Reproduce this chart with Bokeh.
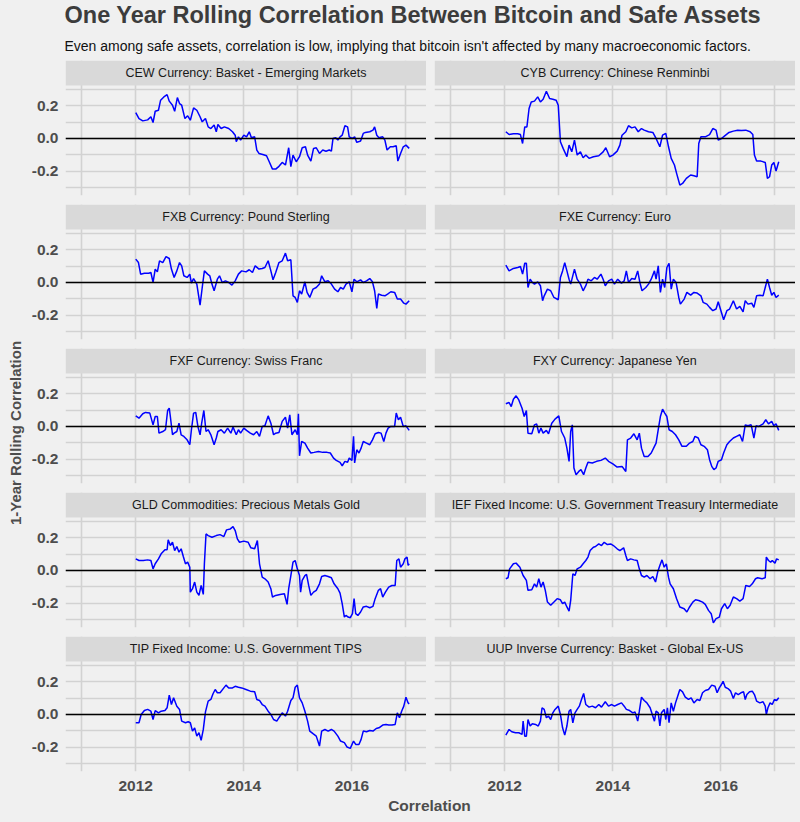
from bokeh.plotting import figure
from bokeh.layouts import column, row
from bokeh.models import Range1d, FixedTicker, PrintfTickFormatter, Span, BoxAnnotation, Label
from bokeh.embed import file_html
from bokeh.resources import INLINE

# ---------------- texts ----------------
TITLE = "One Year Rolling Correlation Between Bitcoin and Safe Assets"
SUBTITLE = ("Even among safe assets, correlation is low, implying that bitcoin "
            "isn't affected by many macroeconomic factors.")
X_TITLE = "Correlation"
Y_TITLE = "1-Year Rolling Correlation"

panel_names = [
    "CEW Currency: Basket - Emerging Markets",
    "CYB Currency: Chinese Renminbi",
    "FXB Currency: Pound Sterling",
    "FXE Currency: Euro",
    "FXF Currency: Swiss Franc",
    "FXY Currency: Japanese Yen",
    "GLD Commodities: Precious Metals Gold",
    "IEF Fixed Income: U.S. Government Treasury Intermediate",
    "TIP Fixed Income: U.S. Government TIPS",
    "UUP Inverse Currency: Basket - Global Ex-US",
]

# ---------------- ticks ----------------
BASE_YEAR = 2012
x_major = [2012, 2014, 2016]
x_minor = [2011, 2013, 2015, 2017]
y_major = [-0.2, 0.0, 0.2]
y_minor = [-0.3, -0.1, 0.1, 0.3]

# ---------------- data (years since 2012, correlation) ----------------
cew_t = [0.00,0.06,0.13,0.22,0.28,0.32,0.36,0.42,0.46,0.52,0.58,0.62,0.68,0.72,0.77,0.81,0.85,0.91,0.96,1.01,
         1.07,1.13,1.19,1.23,1.29,1.34,1.39,1.45,1.49,1.52,1.58,1.64,1.72,1.79,1.84,1.86,1.90,1.94,2.00,2.05,
         2.10,2.14,2.20,2.24,2.28,2.35,2.42,2.47,2.53,2.59,2.65,2.71,2.77,2.83,2.87,2.91,2.97,3.03,3.08,3.14,
         3.18,3.24,3.29,3.34,3.40,3.46,3.52,3.58,3.62,3.65,3.70,3.74,3.78,3.82,3.87,3.92,3.95,4.01,4.05,4.09,
         4.16,4.21,4.25,4.33,4.39,4.42,4.46,4.50,4.57,4.61,4.65,4.71,4.76,4.82,4.85,4.90,4.95,5.00,5.06]
cew_v = [0.159,0.122,0.108,0.114,0.133,0.098,0.167,0.173,0.235,0.255,0.269,0.229,0.204,0.167,0.251,0.214,0.204,0.122,0.139,0.112,
         0.188,0.173,0.133,0.102,0.122,0.071,0.061,0.082,0.041,0.086,0.061,0.071,0.061,0.041,0.020,-0.020,0.010,-0.010,0.020,0.010,
         0.041,0.004,0.010,-0.071,-0.092,-0.098,-0.106,-0.143,-0.188,-0.188,-0.171,-0.147,-0.163,-0.057,-0.173,-0.102,-0.143,-0.112,-0.057,-0.051,
         -0.102,-0.139,-0.061,-0.057,-0.092,-0.071,-0.078,-0.071,-0.078,0.000,0.004,-0.010,0.010,0.020,0.078,0.071,0.010,0.000,0.010,-0.024,
         -0.016,0.031,0.037,0.041,0.051,0.071,0.020,0.004,0.010,-0.010,-0.071,-0.051,-0.051,-0.045,-0.139,-0.092,-0.051,-0.041,-0.061]

cyb_t = [0.02,0.08,0.16,0.24,0.29,0.33,0.37,0.41,0.45,0.49,0.55,0.61,0.66,0.71,0.77,0.83,0.89,0.95,0.99,1.03,
         1.08,1.15,1.19,1.24,1.29,1.34,1.40,1.45,1.50,1.56,1.64,1.74,1.82,1.87,1.94,2.00,2.08,2.13,2.17,2.24,
         2.29,2.35,2.41,2.47,2.53,2.58,2.66,2.74,2.80,2.87,2.92,2.98,3.03,3.08,3.14,3.18,3.24,3.29,3.36,3.44,
         3.50,3.56,3.59,3.63,3.71,3.79,3.85,3.91,3.95,4.01,4.07,4.15,4.23,4.31,4.38,4.46,4.54,4.59,4.62,4.66,
         4.74,4.82,4.86,4.90,4.94,4.98,5.02,5.07]
cyb_v = [0.041,0.024,0.029,0.029,0.024,-0.031,0.071,0.071,0.184,0.224,0.229,0.255,0.224,0.241,0.290,0.245,0.241,0.235,0.204,-0.020,
         -0.061,-0.112,-0.041,-0.082,-0.010,-0.102,-0.082,-0.118,-0.102,-0.122,-0.112,-0.106,-0.082,-0.057,-0.112,-0.102,-0.078,-0.041,0.020,0.041,
         0.078,0.065,0.071,0.041,0.061,0.051,0.041,0.037,0.000,-0.051,0.020,0.031,-0.051,-0.122,-0.163,-0.214,-0.286,-0.276,-0.245,-0.224,
         -0.229,-0.235,-0.031,0.010,0.010,0.024,0.061,0.051,-0.010,0.000,0.016,0.037,0.045,0.051,0.049,0.051,0.041,0.024,-0.102,-0.139,
         -0.139,-0.147,-0.245,-0.235,-0.163,-0.147,-0.200,-0.143]

fxb_t = [0.00,0.05,0.09,0.16,0.24,0.28,0.32,0.36,0.40,0.44,0.50,0.56,0.62,0.66,0.71,0.76,0.81,0.85,0.89,0.95,
         1.00,1.03,1.07,1.13,1.19,1.23,1.27,1.33,1.37,1.41,1.45,1.51,1.55,1.60,1.66,1.72,1.78,1.84,1.90,1.96,
         2.04,2.10,2.16,2.21,2.28,2.34,2.39,2.45,2.50,2.54,2.59,2.65,2.71,2.77,2.81,2.87,2.91,2.95,2.99,3.03,
         3.07,3.13,3.17,3.22,3.28,3.34,3.40,3.44,3.50,3.56,3.62,3.68,3.74,3.79,3.84,3.89,3.95,4.00,4.04,4.09,
         4.16,4.21,4.27,4.33,4.38,4.42,4.46,4.49,4.55,4.61,4.66,4.72,4.79,4.84,4.90,4.96,5.00,5.06]
fxb_v = [0.143,0.122,0.051,0.057,0.057,0.061,0.000,0.082,0.065,0.133,0.122,0.159,0.147,0.082,0.031,0.071,0.122,0.102,0.041,0.031,
         0.051,-0.004,0.024,-0.010,-0.139,-0.031,0.071,0.051,0.041,-0.010,-0.051,0.020,0.041,0.000,0.010,0.000,-0.016,0.010,0.051,0.071,
         0.065,0.078,0.061,0.102,0.082,0.086,0.092,0.133,0.071,0.016,0.061,0.122,0.133,0.180,0.133,0.139,-0.082,-0.092,-0.122,-0.051,
         -0.071,0.004,-0.061,-0.092,-0.041,-0.031,-0.010,0.041,0.004,0.010,-0.010,-0.041,-0.057,-0.031,-0.041,-0.010,0.004,-0.057,0.020,0.004,
         0.016,0.000,0.010,0.024,0.004,-0.051,-0.159,-0.071,-0.078,-0.082,-0.071,-0.057,-0.061,-0.102,-0.102,-0.127,-0.133,-0.112]

fxe_t = [0.02,0.08,0.16,0.24,0.29,0.33,0.37,0.40,0.43,0.47,0.51,0.55,0.61,0.66,0.70,0.73,0.79,0.85,0.91,0.99,
         1.03,1.07,1.11,1.15,1.19,1.22,1.29,1.34,1.40,1.45,1.50,1.54,1.60,1.66,1.71,1.78,1.82,1.86,1.92,1.98,
         2.03,2.09,2.16,2.21,2.25,2.29,2.35,2.41,2.46,2.50,2.54,2.61,2.66,2.71,2.77,2.80,2.84,2.88,2.92,2.96,
         3.00,3.04,3.08,3.12,3.17,3.22,3.25,3.32,3.37,3.44,3.50,3.56,3.63,3.67,3.74,3.79,3.85,3.91,3.95,4.01,
         4.05,4.11,4.16,4.23,4.29,4.35,4.41,4.45,4.50,4.57,4.61,4.66,4.72,4.78,4.82,4.86,4.90,4.94,4.98,5.02,
         5.07]
fxe_v = [0.106,0.071,0.086,0.092,0.098,0.051,0.118,0.118,-0.031,0.020,0.000,-0.010,0.004,-0.020,-0.112,-0.082,-0.041,-0.051,-0.092,-0.106,
         0.031,0.071,0.122,0.071,0.020,-0.010,0.082,0.020,-0.010,-0.051,-0.020,0.020,0.010,0.031,0.020,0.051,0.020,-0.020,0.010,0.020,
         -0.010,0.020,-0.004,0.010,0.071,0.000,0.024,0.020,0.071,0.000,-0.051,-0.031,-0.010,0.020,0.071,0.020,0.102,-0.061,0.020,-0.031,
         0.092,0.118,-0.041,0.020,0.000,-0.092,-0.133,-0.102,-0.061,-0.078,-0.061,-0.065,-0.082,-0.122,-0.133,-0.153,-0.173,-0.163,-0.118,-0.184,
         -0.229,-0.173,-0.163,-0.112,-0.163,-0.147,-0.180,-0.112,-0.133,-0.127,-0.153,-0.082,-0.078,-0.082,-0.031,0.020,-0.031,-0.078,-0.061,-0.092,
         -0.078]

fxf_t = [0.00,0.06,0.13,0.18,0.26,0.32,0.36,0.40,0.43,0.50,0.55,0.59,0.62,0.64,0.68,0.71,0.76,0.80,0.84,0.89,
         0.95,1.00,1.03,1.07,1.11,1.15,1.19,1.22,1.26,1.30,1.34,1.39,1.45,1.49,1.52,1.58,1.64,1.70,1.76,1.80,
         1.86,1.90,1.94,2.00,2.05,2.12,2.18,2.24,2.29,2.34,2.39,2.45,2.50,2.55,2.59,2.65,2.71,2.77,2.81,2.85,
         2.89,2.95,2.99,3.01,3.03,3.07,3.13,3.18,3.24,3.30,3.38,3.46,3.54,3.60,3.66,3.71,3.78,3.82,3.87,3.92,
         3.95,4.00,4.03,4.05,4.09,4.13,4.17,4.21,4.27,4.33,4.38,4.43,4.49,4.54,4.59,4.63,4.67,4.72,4.79,4.82,
         4.86,4.90,4.95,5.00,5.06]
fxf_v = [0.065,0.051,0.078,0.086,0.082,0.010,0.061,0.061,-0.041,-0.031,-0.020,0.098,0.112,0.061,-0.051,-0.041,-0.031,0.020,-0.051,-0.061,
         -0.082,-0.112,-0.020,0.082,0.086,0.000,-0.051,0.020,0.098,-0.031,-0.020,-0.051,-0.112,-0.071,-0.031,-0.020,-0.041,-0.010,-0.041,-0.004,
         -0.051,-0.020,-0.041,-0.010,-0.024,-0.041,-0.051,-0.031,-0.061,0.000,0.004,0.065,0.020,-0.051,-0.041,-0.037,0.031,0.057,-0.010,0.071,
         -0.051,-0.020,-0.051,0.078,-0.180,-0.092,-0.102,-0.133,-0.163,-0.159,-0.153,-0.159,-0.159,-0.163,-0.194,-0.208,-0.220,-0.241,-0.214,-0.220,
         -0.194,-0.208,-0.061,-0.224,-0.143,-0.163,-0.133,-0.092,-0.102,-0.112,-0.082,-0.045,-0.037,-0.041,-0.092,-0.041,-0.010,0.000,0.000,0.082,
         0.041,0.057,0.000,0.004,-0.024]

fxy_t = [0.02,0.08,0.12,0.16,0.21,0.26,0.32,0.36,0.40,0.43,0.50,0.55,0.59,0.63,0.67,0.71,0.77,0.81,0.87,0.93,
         1.00,1.05,1.11,1.15,1.19,1.22,1.25,1.28,1.32,1.37,1.41,1.46,1.50,1.54,1.62,1.70,1.78,1.86,1.92,2.00,
         2.08,2.17,2.24,2.27,2.33,2.39,2.45,2.49,2.53,2.58,2.65,2.71,2.77,2.80,2.84,2.88,2.92,2.96,3.00,3.04,
         3.10,3.16,3.22,3.28,3.36,3.42,3.48,3.52,3.58,3.63,3.69,3.75,3.79,3.83,3.87,3.91,3.95,4.01,4.05,4.11,
         4.16,4.23,4.29,4.35,4.40,4.45,4.50,4.56,4.61,4.65,4.70,4.78,4.83,4.88,4.94,4.98,5.02,5.07]
fxy_v = [0.139,0.147,0.122,0.167,0.188,0.163,0.112,0.061,0.098,-0.041,-0.045,0.010,0.016,-0.041,-0.010,-0.041,-0.024,-0.045,0.020,0.045,
         0.065,-0.031,-0.071,-0.133,-0.214,-0.031,0.010,-0.255,-0.296,-0.276,-0.265,-0.296,-0.255,-0.220,-0.224,-0.214,-0.208,-0.194,-0.214,-0.229,
         -0.249,-0.245,-0.276,-0.082,-0.071,-0.045,-0.082,-0.041,-0.133,-0.184,-0.184,-0.163,-0.122,-0.102,-0.020,0.061,0.106,0.082,0.061,-0.020,
         -0.031,-0.051,-0.082,-0.122,-0.122,-0.102,-0.092,-0.061,-0.071,-0.112,-0.122,-0.143,-0.204,-0.245,-0.265,-0.255,-0.214,-0.204,-0.163,-0.112,
         -0.092,-0.071,-0.061,-0.051,-0.092,0.010,0.004,0.010,-0.071,0.004,0.000,0.016,0.041,0.016,0.031,0.004,0.016,-0.024]

gld_t = [0.00,0.06,0.14,0.22,0.28,0.32,0.36,0.42,0.47,0.54,0.58,0.60,0.64,0.68,0.72,0.76,0.80,0.84,0.88,0.92,
         0.96,1.00,1.01,1.05,1.09,1.13,1.17,1.21,1.25,1.27,1.30,1.34,1.41,1.49,1.56,1.63,1.68,1.75,1.80,1.84,
         1.88,1.92,2.00,2.08,2.13,2.20,2.25,2.29,2.34,2.39,2.45,2.50,2.53,2.59,2.67,2.75,2.80,2.83,2.87,2.91,
         2.95,2.99,3.03,3.05,3.08,3.13,3.16,3.20,3.24,3.29,3.34,3.40,3.44,3.50,3.56,3.62,3.67,3.74,3.78,3.82,
         3.86,3.89,3.93,3.97,4.01,4.04,4.07,4.11,4.16,4.21,4.27,4.33,4.39,4.43,4.49,4.53,4.57,4.62,4.68,4.74,
         4.80,4.83,4.87,4.90,4.95,4.98,5.02,5.04,5.06]
gld_v = [0.071,0.061,0.061,0.065,0.061,0.010,0.041,0.071,0.102,0.127,0.127,0.188,0.153,0.173,0.122,0.147,0.112,0.133,0.086,0.041,
         0.051,0.020,-0.133,-0.112,-0.071,-0.133,-0.153,-0.092,-0.147,0.041,0.224,0.214,0.204,0.214,0.220,0.208,0.249,0.255,0.269,0.245,
         0.194,0.173,0.180,0.173,0.139,0.133,0.184,0.041,-0.041,-0.051,-0.071,-0.112,-0.163,-0.153,-0.147,-0.143,-0.208,-0.112,-0.031,0.051,
         0.061,0.010,-0.031,-0.133,-0.061,-0.031,-0.024,-0.092,-0.153,-0.133,-0.122,-0.082,-0.037,-0.031,-0.037,-0.045,-0.082,-0.112,-0.139,-0.204,
         -0.286,-0.276,-0.286,-0.290,-0.265,-0.173,-0.265,-0.276,-0.255,-0.224,-0.220,-0.229,-0.220,-0.173,-0.122,-0.112,-0.163,-0.133,-0.102,-0.092,
         -0.092,0.061,0.071,0.020,0.041,0.071,0.082,0.031,0.041]

ief_t = [0.02,0.06,0.09,0.16,0.21,0.28,0.34,0.40,0.43,0.50,0.55,0.59,0.63,0.67,0.71,0.75,0.79,0.85,0.91,0.97,
         1.03,1.07,1.11,1.15,1.19,1.22,1.26,1.30,1.34,1.40,1.45,1.50,1.54,1.58,1.64,1.68,1.74,1.79,1.84,1.90,
         1.96,2.01,2.08,2.13,2.20,2.24,2.27,2.33,2.39,2.45,2.49,2.53,2.58,2.63,2.69,2.74,2.79,2.83,2.87,2.91,
         2.95,2.99,3.03,3.06,3.12,3.18,3.24,3.32,3.37,3.42,3.48,3.53,3.59,3.66,3.71,3.77,3.82,3.86,3.91,3.97,
         4.01,4.07,4.12,4.17,4.23,4.29,4.35,4.41,4.46,4.53,4.58,4.64,4.68,4.76,4.82,4.84,4.88,4.92,4.95,5.00,
         5.03,5.07]
ief_v = [-0.051,-0.045,0.010,0.041,0.045,0.020,-0.031,-0.061,-0.122,-0.118,-0.082,-0.102,-0.051,-0.102,-0.071,-0.122,-0.194,-0.214,-0.194,-0.173,
         -0.180,-0.204,-0.194,-0.224,-0.249,-0.184,-0.020,-0.031,0.010,0.020,0.041,0.061,0.082,0.122,0.143,0.147,0.163,0.153,0.173,0.159,
         0.163,0.153,0.133,0.122,0.139,0.092,0.061,0.071,0.065,0.061,0.010,-0.031,-0.041,-0.031,-0.051,-0.037,-0.071,-0.010,0.031,0.065,
         0.020,0.041,-0.041,-0.082,-0.112,-0.173,-0.224,-0.235,-0.255,-0.224,-0.194,-0.180,-0.184,-0.194,-0.208,-0.245,-0.265,-0.322,-0.296,-0.286,
         -0.235,-0.204,-0.235,-0.214,-0.163,-0.173,-0.188,-0.173,-0.092,-0.098,-0.082,-0.051,-0.045,-0.051,-0.045,0.082,0.061,0.051,0.061,0.045,
         0.071,0.065]

tip_t = [0.00,0.06,0.10,0.16,0.22,0.28,0.32,0.36,0.42,0.47,0.54,0.58,0.62,0.66,0.70,0.76,0.81,0.85,0.92,0.97,
         1.01,1.05,1.09,1.13,1.17,1.21,1.25,1.29,1.34,1.39,1.43,1.47,1.51,1.56,1.63,1.67,1.72,1.79,1.84,1.90,
         1.96,2.04,2.12,2.20,2.24,2.29,2.34,2.39,2.45,2.50,2.55,2.61,2.65,2.71,2.77,2.81,2.87,2.91,2.95,2.99,
         3.03,3.08,3.13,3.18,3.22,3.28,3.34,3.40,3.44,3.50,3.56,3.62,3.67,3.74,3.79,3.86,3.91,3.97,4.03,4.07,
         4.13,4.17,4.21,4.27,4.33,4.39,4.45,4.50,4.57,4.63,4.68,4.74,4.80,4.84,4.88,4.92,4.96,5.00,5.04,5.06]
tip_v = [-0.051,-0.051,0.000,0.024,0.031,0.020,-0.031,0.024,0.010,0.020,0.024,0.041,0.118,0.061,0.102,0.051,0.031,-0.041,-0.051,-0.045,
         -0.051,-0.102,-0.082,-0.133,-0.112,-0.159,-0.092,0.016,0.082,0.092,0.127,0.153,0.133,0.133,0.163,0.180,0.163,0.163,0.173,0.167,
         0.163,0.153,0.143,0.139,0.092,0.086,0.061,0.051,0.020,0.000,-0.031,-0.041,-0.020,0.010,-0.010,0.020,0.086,0.102,0.167,0.180,
         0.102,0.071,0.020,-0.041,-0.102,-0.118,-0.133,-0.194,-0.102,-0.092,-0.102,-0.092,-0.102,-0.133,-0.163,-0.173,-0.200,-0.208,-0.163,-0.184,
         -0.184,-0.153,-0.102,-0.106,-0.098,-0.102,-0.086,-0.082,-0.065,-0.061,-0.065,-0.065,-0.061,0.010,-0.020,0.020,0.051,0.106,0.071,0.065]

uup_t = [0.02,0.08,0.13,0.20,0.26,0.32,0.34,0.37,0.40,0.43,0.47,0.51,0.57,0.62,0.66,0.69,0.73,0.77,0.81,0.85,
         0.89,0.93,0.99,1.03,1.07,1.11,1.15,1.19,1.22,1.26,1.30,1.34,1.38,1.42,1.46,1.50,1.56,1.62,1.68,1.74,
         1.79,1.86,1.92,1.98,2.03,2.09,2.16,2.21,2.25,2.31,2.37,2.41,2.46,2.49,2.53,2.58,2.63,2.69,2.73,2.77,
         2.80,2.84,2.87,2.90,2.95,2.98,3.01,3.04,3.08,3.12,3.16,3.20,3.24,3.29,3.34,3.40,3.45,3.50,3.56,3.61,
         3.66,3.71,3.77,3.83,3.89,3.93,3.97,4.01,4.04,4.08,4.13,4.18,4.23,4.27,4.32,4.37,4.42,4.45,4.48,4.53,
         4.58,4.62,4.66,4.72,4.78,4.82,4.84,4.87,4.91,4.95,4.99,5.03,5.07]
uup_v = [-0.127,-0.092,-0.106,-0.112,-0.112,-0.122,-0.041,-0.133,-0.133,-0.031,-0.071,-0.057,-0.061,-0.071,-0.041,0.041,0.031,-0.020,-0.010,-0.031,
         0.010,0.031,0.051,0.000,-0.082,-0.127,-0.071,0.020,0.031,-0.051,0.010,0.031,0.051,0.092,0.129,0.061,0.045,0.051,0.041,0.061,
         0.045,0.078,0.051,0.061,0.051,0.061,0.071,0.051,0.031,0.024,0.010,0.016,-0.041,0.020,0.106,0.086,0.071,0.041,0.000,-0.041,
         0.020,0.010,-0.071,0.010,0.031,-0.031,0.041,-0.051,0.071,0.020,0.071,0.112,0.153,0.139,0.106,0.092,0.102,0.071,0.092,0.086,
         0.133,0.147,0.153,0.180,0.173,0.133,0.163,0.184,0.204,0.167,0.159,0.143,0.098,0.133,0.122,0.133,0.139,0.092,0.122,0.139,
         0.143,0.122,0.082,0.071,0.078,0.051,0.000,0.041,0.071,0.061,0.092,0.086,0.102]

series_t = [cew_t, cyb_t, fxb_t, fxe_t, fxf_t, fxy_t, gld_t, ief_t, tip_t, uup_t]
series_v = [cew_v, cyb_v, fxb_v, fxe_v, fxf_v, fxy_v, gld_v, ief_v, tip_v, uup_v]

# ---------------- style / layout ----------------
BG = "#F0F0F0"
STRIP_BG = "#D9D9D9"
GRID = "#D2D2D2"
TXT = "#3C3C3C"
AX_TXT = "#4D4D4D"
FONT = "Liberation Sans"
BG_STYLE = {"background-color": BG}

X_LO, X_HI = 2010.70, 2017.38
Y_LO, Y_HI = -0.35, 0.325
PANEL_W = 361
PANEL_PX = 110
STRIP_PX = 25
Y_TOP = Y_HI + (Y_HI - Y_LO) * STRIP_PX / PANEL_PX

GAP_X = 8
GAP_Y = 9
YAXIS_W = 36
YLAB_W = 28
XAXIS_H = 27
HEADER_H = 60
FOOTER_H = 20
TOTAL_W = 800
ROW_H = STRIP_PX + PANEL_PX + GAP_Y
PANELS_SPAN = 4 * ROW_H + STRIP_PX + PANEL_PX
GRID_H = PANELS_SPAN + XAXIS_H
Y_TITLE_SHIFT = 17          # vertical title sits a little below the panels' centre


def style_plain(p):
    p.background_fill_color = BG
    p.border_fill_color = BG
    p.outline_line_color = None
    p.styles = BG_STYLE


def make_panel(idx):
    left = idx % 2 == 0
    bottom = idx >= 8
    p = figure(frame_width=PANEL_W, frame_height=STRIP_PX + PANEL_PX,
               x_range=Range1d(X_LO, X_HI), y_range=Range1d(Y_LO, Y_TOP),
               x_axis_location="below" if bottom else None,
               y_axis_location="left" if left else None,
               min_border_left=YAXIS_W if left else GAP_X, min_border_right=0,
               min_border_top=0, min_border_bottom=XAXIS_H if bottom else GAP_Y,
               output_backend="svg", toolbar_location=None)
    style_plain(p)

    p.xgrid.ticker = FixedTicker(ticks=x_major, minor_ticks=x_minor)
    p.ygrid.ticker = FixedTicker(ticks=y_major, minor_ticks=y_minor)
    for g in (p.xgrid, p.ygrid):
        g.grid_line_color = GRID
        g.grid_line_width = 1.6
        g.minor_grid_line_color = GRID
        g.minor_grid_line_width = 1.6

    if bottom:
        ax = p.xaxis[0]
        ax.ticker = FixedTicker(ticks=x_major)
        ax.formatter = PrintfTickFormatter(format="%d")
        ax.major_label_standoff = 9
    if left:
        ay = p.yaxis[0]
        ay.ticker = FixedTicker(ticks=y_major)
        ay.formatter = PrintfTickFormatter(format="%.1f")
        ay.major_label_standoff = 7
    for ax in list(p.xaxis) + list(p.yaxis):
        ax.axis_line_color = None
        ax.major_tick_line_color = None
        ax.minor_tick_line_color = None
        ax.major_tick_out = 0
        ax.major_tick_in = 0
        ax.major_label_text_font = FONT
        ax.major_label_text_font_size = "15.5px"
        ax.major_label_text_font_style = "bold"
        ax.major_label_text_color = AX_TXT

    x = [BASE_YEAR + t for t in series_t[idx]]
    p.line(x, series_v[idx], line_color="blue", line_width=1.5)
    p.add_layout(Span(location=0, dimension="width", line_color="black", line_width=1.4))

    # facet strip
    p.add_layout(BoxAnnotation(left=X_LO, right=X_HI, bottom=Y_HI, top=Y_TOP,
                               fill_color=STRIP_BG, fill_alpha=1.0, line_color=None))
    p.add_layout(Label(x=(X_LO + X_HI) / 2, y=(Y_HI + Y_TOP) / 2, text=panel_names[idx],
                       text_align="center", text_baseline="middle",
                       text_font=FONT, text_font_size="12.5px", text_color="#1A1A1A"))
    return p


panels = [make_panel(i) for i in range(10)]
grid = column(*[row(panels[2 * r], panels[2 * r + 1], styles=BG_STYLE) for r in range(5)],
              styles=BG_STYLE)

# header with title and subtitle
header = figure(width=TOTAL_W, height=HEADER_H, x_range=Range1d(0, TOTAL_W), y_range=Range1d(0, HEADER_H),
                x_axis_location=None, y_axis_location=None, min_border=0,
                output_backend="svg", toolbar_location=None)
style_plain(header)
header.grid.visible = False
header.add_layout(Label(x=YLAB_W + YAXIS_W, y=HEADER_H - 14, text=TITLE, text_baseline="middle",
                        text_font=FONT, text_font_size="23.5px", text_font_style="bold", text_color=TXT))
header.add_layout(Label(x=YLAB_W + YAXIS_W, y=HEADER_H - 45, text=SUBTITLE, text_baseline="middle",
                        text_font=FONT, text_font_size="14px", text_color="#111111"))

# vertical axis title
ylab = figure(width=YLAB_W, height=GRID_H, x_range=Range1d(0, YLAB_W), y_range=Range1d(0, GRID_H),
              x_axis_location=None, y_axis_location=None, min_border=0,
              output_backend="svg", toolbar_location=None)
style_plain(ylab)
ylab.grid.visible = False
ylab.add_layout(Label(x=15, y=GRID_H - PANELS_SPAN / 2 - Y_TITLE_SHIFT, text=Y_TITLE, angle=1.5707963,
                      text_align="center", text_baseline="middle",
                      text_font=FONT, text_font_size="15px", text_font_style="bold", text_color=AX_TXT))

# horizontal axis title
footer = figure(width=TOTAL_W, height=FOOTER_H, x_range=Range1d(0, TOTAL_W), y_range=Range1d(0, FOOTER_H),
                x_axis_location=None, y_axis_location=None, min_border=0,
                output_backend="svg", toolbar_location=None)
style_plain(footer)
footer.grid.visible = False
footer.add_layout(Label(x=YLAB_W + YAXIS_W + (2 * PANEL_W + GAP_X) / 2, y=FOOTER_H - 7, text=X_TITLE,
                        text_align="center", text_baseline="middle",
                        text_font=FONT, text_font_size="15.5px", text_font_style="bold", text_color=AX_TXT))

layout = column(header, row(ylab, grid, styles=BG_STYLE), footer, styles=BG_STYLE)

html = file_html(layout, INLINE, title="One Year Rolling Correlation")
html = html.replace("</head>",
                    "<style>html, body { background-color: #F0F0F0 !important; }</style></head>", 1)
with open("out.html", "w") as f:
    f.write(html)
